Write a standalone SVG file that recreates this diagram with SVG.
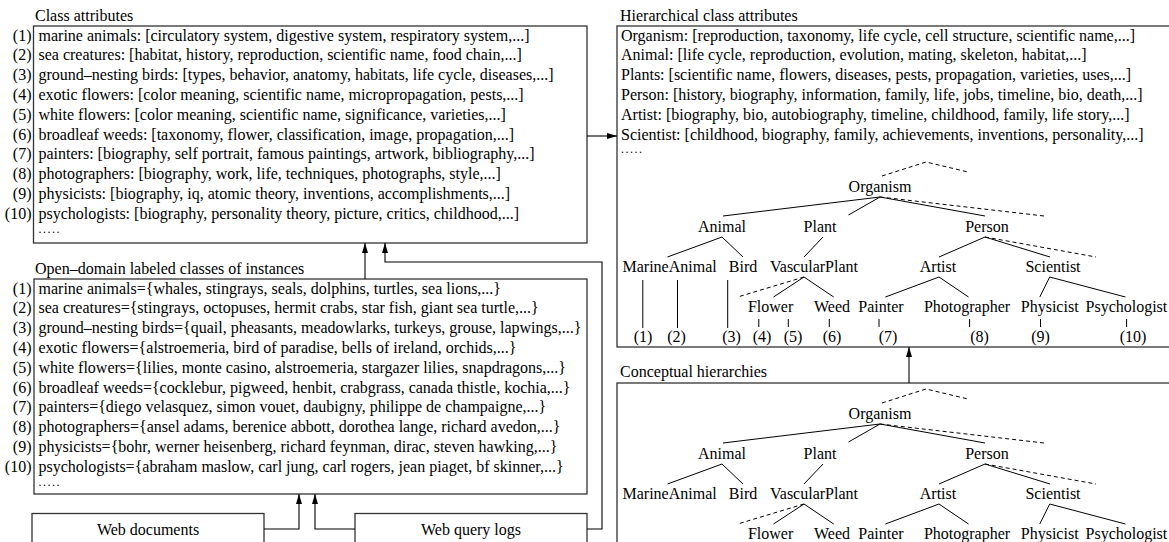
<svg xmlns="http://www.w3.org/2000/svg" width="1169" height="542" viewBox="0 0 1169 542">
<style>
text{font-family:"Liberation Serif","Times New Roman",serif;font-size:16px;fill:#000}
.n{text-anchor:end}
.m{text-anchor:middle}
.dots{font-size:12px;letter-spacing:1.5px}
.box{fill:#fff;stroke:#333;stroke-width:1.3}
.e{stroke:#000;stroke-width:1;fill:none}
.d{stroke:#000;stroke-width:1;fill:none;stroke-dasharray:4 3}
.c{stroke:#000;stroke-width:1.1;fill:none}
</style>
<defs>
<marker id="ah" markerUnits="userSpaceOnUse" markerWidth="10" markerHeight="6" refX="10" refY="3" orient="auto">
<path d="M0,0 L10,3 L0,6 z" fill="#000"/>
</marker>
</defs>

<g id="class-attributes">
<text x="35" y="20.5">Class attributes</text>
<rect class="box" x="33.5" y="26" width="553.5" height="217"/>
<g>
<text class="n" x="31.5" y="40.5">(1)</text><text x="38.5" y="40.5">marine animals: [circulatory system, digestive system, respiratory system,...]</text>
<text class="n" x="31.5" y="60.3">(2)</text><text x="38.5" y="60.3">sea creatures: [habitat, history, reproduction, scientific name, food chain,...]</text>
<text class="n" x="31.5" y="80.1">(3)</text><text x="38.5" y="80.1">ground–nesting birds: [types, behavior, anatomy, habitats, life cycle, diseases,...]</text>
<text class="n" x="31.5" y="99.9">(4)</text><text x="38.5" y="99.9">exotic flowers: [color meaning, scientific name, micropropagation, pests,...]</text>
<text class="n" x="31.5" y="119.7">(5)</text><text x="38.5" y="119.7">white flowers: [color meaning, scientific name, significance, varieties,...]</text>
<text class="n" x="31.5" y="139.5">(6)</text><text x="38.5" y="139.5">broadleaf weeds: [taxonomy, flower, classification, image, propagation,...]</text>
<text class="n" x="31.5" y="159.3">(7)</text><text x="38.5" y="159.3">painters: [biography, self portrait, famous paintings, artwork, bibliography,...]</text>
<text class="n" x="31.5" y="179.1">(8)</text><text x="38.5" y="179.1">photographers: [biography, work, life, techniques, photographs, style,...]</text>
<text class="n" x="31.5" y="198.9">(9)</text><text x="38.5" y="198.9">physicists: [biography, iq, atomic theory, inventions, accomplishments,...]</text>
<text class="n" x="31.5" y="218.7">(10)</text><text x="38.5" y="218.7">psychologists: [biography, personality theory, picture, critics, childhood,...]</text>
<text class="dots" x="38.5" y="233">.....</text>
</g>
</g>

<g id="labeled-classes">
<text x="35" y="273.5">Open–domain labeled classes of instances</text>
<rect class="box" x="34" y="279" width="553" height="215"/>
<text class="n" x="31.5" y="293.5">(1)</text><text x="38.5" y="293.5">marine animals={whales, stingrays, seals, dolphins, turtles, sea lions,...}</text>
<text class="n" x="31.5" y="313.3">(2)</text><text x="38.5" y="313.3">sea creatures={stingrays, octopuses, hermit crabs, star fish, giant sea turtle,...}</text>
<text class="n" x="31.5" y="333.1">(3)</text><text x="38.5" y="333.1">ground–nesting birds={quail, pheasants, meadowlarks, turkeys, grouse, lapwings,...}</text>
<text class="n" x="31.5" y="352.9">(4)</text><text x="38.5" y="352.9">exotic flowers={alstroemeria, bird of paradise, bells of ireland, orchids,...}</text>
<text class="n" x="31.5" y="372.7">(5)</text><text x="38.5" y="372.7">white flowers={lilies, monte casino, alstroemeria, stargazer lilies, snapdragons,...}</text>
<text class="n" x="31.5" y="392.5">(6)</text><text x="38.5" y="392.5">broadleaf weeds={cocklebur, pigweed, henbit, crabgrass, canada thistle, kochia,...}</text>
<text class="n" x="31.5" y="412.3">(7)</text><text x="38.5" y="412.3">painters={diego velasquez, simon vouet, daubigny, philippe de champaigne,...}</text>
<text class="n" x="31.5" y="432.1">(8)</text><text x="38.5" y="432.1">photographers={ansel adams, berenice abbott, dorothea lange, richard avedon,...}</text>
<text class="n" x="31.5" y="451.9">(9)</text><text x="38.5" y="451.9">physicists={bohr, werner heisenberg, richard feynman, dirac, steven hawking,...}</text>
<text class="n" x="31.5" y="471.7">(10)</text><text x="38.5" y="471.7">psychologists={abraham maslow, carl jung, carl rogers, jean piaget, bf skinner,...}</text>
<text class="dots" x="38.5" y="486">.....</text>
</g>

<g id="web-documents">
<rect class="box" x="32" y="513.5" width="232" height="40"/>
<text class="m" x="148" y="535">Web documents</text>
</g>

<g id="web-query-logs">
<rect class="box" x="355" y="513.5" width="232" height="40"/>
<text class="m" x="471" y="535">Web query logs</text>
</g>

<g id="hierarchical-class-attributes">
<text x="620" y="20.5">Hierarchical class attributes</text>
<rect class="box" x="617" y="26" width="560" height="321"/>
<text x="621" y="40.5">Organism: [reproduction, taxonomy, life cycle, cell structure, scientific name,...]</text>
<text x="621" y="60.3">Animal: [life cycle, reproduction, evolution, mating, skeleton, habitat,...]</text>
<text x="621" y="80.1">Plants: [scientific name, flowers, diseases, pests, propagation, varieties, uses,...]</text>
<text x="621" y="99.9">Person: [history, biography, information, family, life, jobs, timeline, bio, death,...]</text>
<text x="621" y="119.7">Artist: [biography, bio, autobiography, timeline, childhood, family, life story,...]</text>
<text x="621" y="139.5">Scientist: [childhood, biography, family, achievements, inventions, personality,...]</text>
<text class="dots" x="621" y="153">.....</text>
<g>
<path class="d" d="M882,176 L926,162 L968,172"/>
<path class="e" d="M880,197 L723,216 M880,197 L848.5,215 M880,197 L985,216"/>
<path class="d" d="M880,197 L1044,216"/>
<path class="e" d="M722,237 L667.5,257 M722,237 L743,257 M823,237 L804,257 M985,237 L939,257 M985,237 L1050,257"/>
<path class="d" d="M985,237 L1096,257"/>
<path class="e" d="M804,277 L773.5,297 M804,277 L833.7,297 M939,277 L885.4,297 M939,277 L968.5,297 M1049.7,277 L1039.8,297 M1049.7,277 L1125.4,297"/>
<path class="d" d="M804,277 L737.7,297"/>
<path class="e" d="M642.8,280 V328 M677.5,280 V328 M727.7,280 V328 M758.8,319 V327 M788.3,319 V327 M829.3,319 V327 M879,319 V327 M969.6,319 V327 M1040.5,319 V327 M1126.6,319 V327"/>
<text class="m" x="880" y="192">Organism</text>
<text class="m" x="722" y="232">Animal</text>
<text class="m" x="820" y="232">Plant</text>
<text class="m" x="987" y="232">Person</text>
<text class="m" x="669.6" y="272">MarineAnimal</text>
<text class="m" x="743" y="272">Bird</text>
<text class="m" x="814" y="272">VascularPlant</text>
<text class="m" x="938" y="272">Artist</text>
<text class="m" x="1053" y="272">Scientist</text>
<text class="m" x="770.6" y="312">Flower</text>
<text class="m" x="832" y="312">Weed</text>
<text class="m" x="881" y="312">Painter</text>
<text class="m" x="967" y="312">Photographer</text>
<text class="m" x="1049.7" y="312">Physicist</text>
<text class="m" x="1126.4" y="312">Psychologist</text>
<text class="m" x="643" y="342">(1)</text>
<text class="m" x="676.5" y="342">(2)</text>
<text class="m" x="731.5" y="342">(3)</text>
<text class="m" x="762" y="342">(4)</text>
<text class="m" x="793" y="342">(5)</text>
<text class="m" x="832" y="342">(6)</text>
<text class="m" x="888" y="342">(7)</text>
<text class="m" x="979.5" y="342">(8)</text>
<text class="m" x="1040.5" y="342">(9)</text>
<text class="m" x="1133" y="342">(10)</text>
</g>
</g>

<g id="conceptual-hierarchies">
<text x="620" y="377">Conceptual hierarchies</text>
<rect class="box" x="617" y="383" width="560" height="200"/>
<g transform="translate(0,227)">
<path class="d" d="M882,176 L926,162 L968,172"/>
<path class="e" d="M880,197 L723,216 M880,197 L848.5,215 M880,197 L985,216"/>
<path class="d" d="M880,197 L1044,216"/>
<path class="e" d="M722,237 L667.5,257 M722,237 L743,257 M823,237 L804,257 M985,237 L939,257 M985,237 L1050,257"/>
<path class="d" d="M985,237 L1096,257"/>
<path class="e" d="M804,277 L773.5,297 M804,277 L833.7,297 M939,277 L885.4,297 M939,277 L968.5,297 M1049.7,277 L1039.8,297 M1049.7,277 L1125.4,297"/>
<path class="d" d="M804,277 L737.7,297"/>
<text class="m" x="880" y="192">Organism</text>
<text class="m" x="722" y="232">Animal</text>
<text class="m" x="820" y="232">Plant</text>
<text class="m" x="987" y="232">Person</text>
<text class="m" x="669.6" y="272">MarineAnimal</text>
<text class="m" x="743" y="272">Bird</text>
<text class="m" x="814" y="272">VascularPlant</text>
<text class="m" x="938" y="272">Artist</text>
<text class="m" x="1053" y="272">Scientist</text>
<text class="m" x="770.6" y="312">Flower</text>
<text class="m" x="832" y="312">Weed</text>
<text class="m" x="881" y="312">Painter</text>
<text class="m" x="967" y="312">Photographer</text>
<text class="m" x="1049.7" y="312">Physicist</text>
<text class="m" x="1126.4" y="312">Psychologist</text>
</g>
</g>

<g id="connectors">
<path class="c" d="M365,279 V243" marker-end="url(#ah)"/>
<path class="c" d="M587,529 H602 V262 H385 V243" marker-end="url(#ah)"/>
<path class="c" d="M264,529 H299 V494" marker-end="url(#ah)"/>
<path class="c" d="M355,529 H315 V494" marker-end="url(#ah)"/>
<path class="c" d="M587,136 H617" marker-end="url(#ah)"/>
<path class="c" d="M909,383 V347" marker-end="url(#ah)"/>
</g>
</svg>
